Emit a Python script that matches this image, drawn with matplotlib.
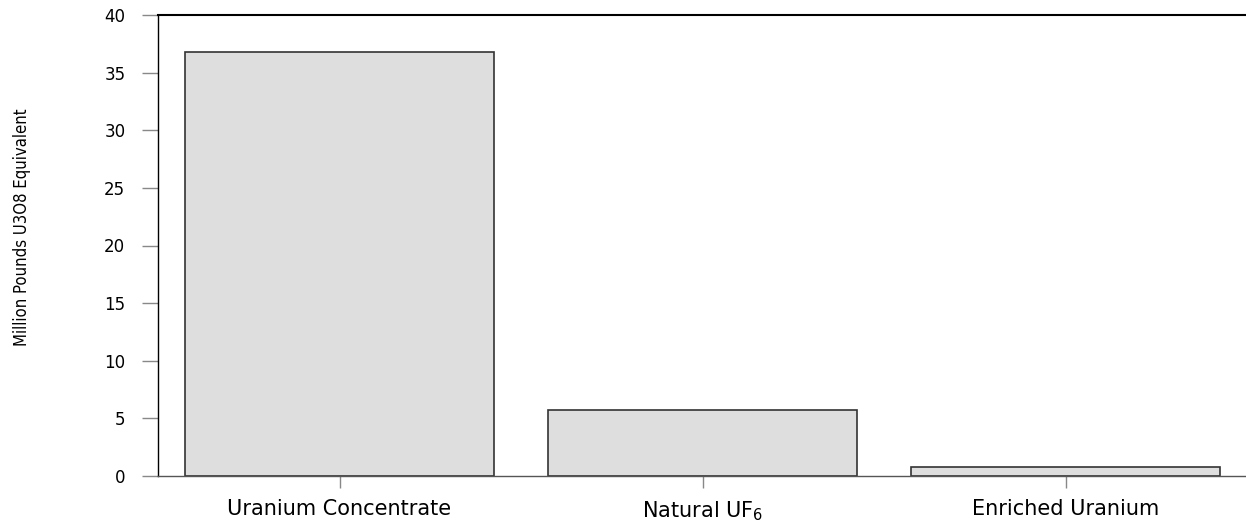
import numpy as np
import matplotlib.pyplot as plt

categories = ['Uranium Concentrate', 'Natural UF$_6$', 'Enriched Uranium']
values = [36.8, 5.75, 0.8]
yticks = [0, 5, 10, 15, 20, 25, 30, 35, 40]

fig = plt.figure(figsize=(12.46, 5.24), dpi=100)
ax = fig.add_axes([158 / 1246, 1 - 476 / 524, 1 - 158 / 1246, (476 - 15) / 524])

x = np.arange(len(categories))
ax.bar(x, values, width=0.851, color='#dedede', edgecolor='#333333', linewidth=1.2)

ax.set_xlim(-0.5, 2.497)
ax.set_ylim(0, 40)
ax.set_yticks(yticks)
ax.set_xticks(x)
ax.set_xticklabels(categories, fontsize=15, family='DejaVu Sans')
ax.set_yticklabels([str(t) for t in yticks], fontsize=12, family='DejaVu Sans')

ax.tick_params(axis='y', length=11.5, width=1, color='#888888', pad=12, direction='out')
ax.tick_params(axis='x', length=8.6, width=1, color='#888888', pad=8, direction='out')

ax.spines['right'].set_visible(False)
ax.spines['top'].set_color('black')
ax.spines['top'].set_linewidth(1.5)
ax.spines['left'].set_color('black')
ax.spines['left'].set_linewidth(1.0)
ax.spines['bottom'].set_color('#555555')
ax.spines['bottom'].set_linewidth(1.0)

# condensed face for the rotated label
fig.text(22 / 1246, 1 - 227.5 / 524, 'Million Pounds U3O8 Equivalent', rotation=90,
         ha='center', va='center', fontsize=12, family='DejaVu Sans',
         fontstretch='condensed')

fig.savefig('out.png', dpi=100)
